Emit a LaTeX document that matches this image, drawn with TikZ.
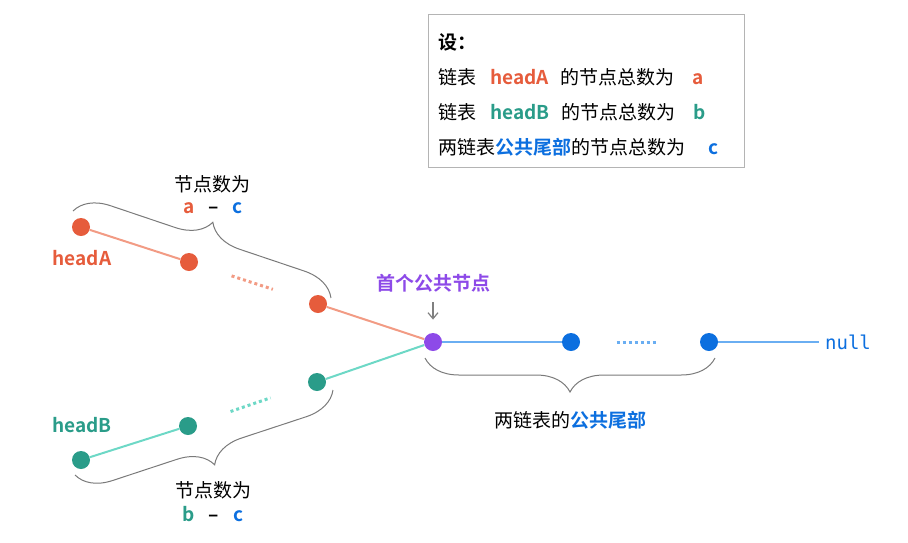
\documentclass[tikz,border=0pt]{standalone}
\usepackage{fontspec}
\setmainfont{Noto Sans CJK SC}[BoldFont={Noto Sans CJK SC Bold}]
\newfontfamily\codefont{DejaVu Sans Mono}
\usetikzlibrary{calc,decorations.pathreplacing,arrows.meta}

\definecolor{ared}{HTML}{E65C3C}
\definecolor{alight}{HTML}{F29B84}
\definecolor{bteal}{HTML}{2A9C89}
\definecolor{blight}{HTML}{6DD8C6}
\definecolor{cblue}{HTML}{0C6FDF}
\definecolor{clight}{HTML}{6AAEF2}
\definecolor{cpurple}{HTML}{8D4AE8}
\definecolor{boxgray}{HTML}{B4B4B4}
\definecolor{bracegray}{HTML}{7A7A7A}

\begin{document}
\begin{tikzpicture}[x=0.5pt,y=-0.5pt,
  every node/.style={font=\fontsize{9.5}{11}\selectfont, inner sep=0pt},
  listnode/.style={circle, fill=#1, minimum size=9pt, inner sep=0pt},
  link/.style={draw=#1, line width=1pt},
  gapdots/.style={draw=#1, line width=1.5pt, dash pattern=on 1.5pt off 1.5pt},
  cbrace/.style={draw=bracegray, line width=0.5pt, decorate, decoration={brace, amplitude=17pt}},
  pointer/.style={draw=gray, line width=0.6pt, -{Straight Barb[length=3pt,width=5pt]}},
  boldtext/.style={font=\fontsize{9.5}{11}\selectfont\bfseries},
]
\useasboundingbox (0,0) rectangle (908,542);

% legend
\node[draw=boxgray, line width=0.7pt, minimum width=158pt, minimum height=76.5pt, anchor=north west] (legend) at (428,14) {};
\node[anchor=west, boldtext] (line0) at (438,42) {设：};
\node[anchor=west] (line1) at (438,77) {链表\hspace{7pt}\textbf{\color{ared}headA}\hspace{6pt}的节点总数为\hspace{9pt}\textbf{\color{ared}a}};
\node[anchor=west] (line2) at (438,112) {链表\hspace{7pt}\textbf{\color{bteal}headB}\hspace{6pt}的节点总数为\hspace{9pt}\textbf{\color{bteal}b}};
\node[anchor=west] (line3) at (438,147) {两链表\textbf{\color{cblue}公共尾部}的节点总数为\hspace{11.5pt}\textbf{\color{cblue}c}};

% list nodes
\node[listnode=ared] (a1) at (81,227) {};
\node[listnode=ared] (a2) at (189,262) {};
\node[listnode=ared] (a3) at (318,304) {};
\node[listnode=bteal] (b1) at (81,460) {};
\node[listnode=bteal] (b2) at (188,426) {};
\node[listnode=bteal] (b3) at (317,382) {};
\node[listnode=cpurple] (c1) at (433,342) {};
\node[listnode=cblue] (c2) at (571,342) {};
\node[listnode=cblue] (c3) at (709,342) {};
\node[text=cblue, font=\fontsize{9.5}{11}\selectfont\codefont] (null) at (848,342) {null};

% links
\draw[link=alight] (a1) -- (a2);
\draw[link=alight] (a3) -- (c1);
\draw[link=blight] (b1) -- (b2);
\draw[link=blight] (b3) -- (c1);
\draw[link=clight] (c1) -- (c2);
\draw[link=clight, shorten >=3pt] (c3) -- (null);
\draw[gapdots=alight] ($(a2)!0.33!(a3)$) -- ($(a2)!0.65!(a3)$);
\draw[gapdots=blight] ($(b2)!0.33!(b3)$) -- ($(b2)!0.64!(b3)$);
\draw[gapdots=clight] ($(c2)!0.33!(c3)$) -- ($(c2)!0.62!(c3)$);

% labels
\node[boldtext, text=ared] (heada) at (82,258) {headA};
\node[boldtext, text=bteal] (headb) at (82,425) {headB};
\node[boldtext, text=cpurple] (first) at (433,283) {首个公共节点};
\draw[pointer, shorten <=5pt, shorten >=6.5pt] (first) -- (c1);

% braces
\draw[cbrace] (73,211) -- (331,298);
\draw[cbrace] (333,390) -- (75,475);
\draw[cbrace] (715,358) -- (425,358);
\node (topcount) at (212,184) {节点数为};
\node[boldtext] (topdiff) at (213,208) {\color{ared}a\hspace{7pt}\color{black}–\hspace{7pt}\color{cblue}c};
\node (botcount) at (213,490) {节点数为};
\node[boldtext] (botdiff) at (213,514) {\color{bteal}b\hspace{7pt}\color{black}–\hspace{7pt}\color{cblue}c};
\node (tail) at (570,420) {两链表的\textbf{\color{cblue}公共尾部}};
\end{tikzpicture}
\end{document}
